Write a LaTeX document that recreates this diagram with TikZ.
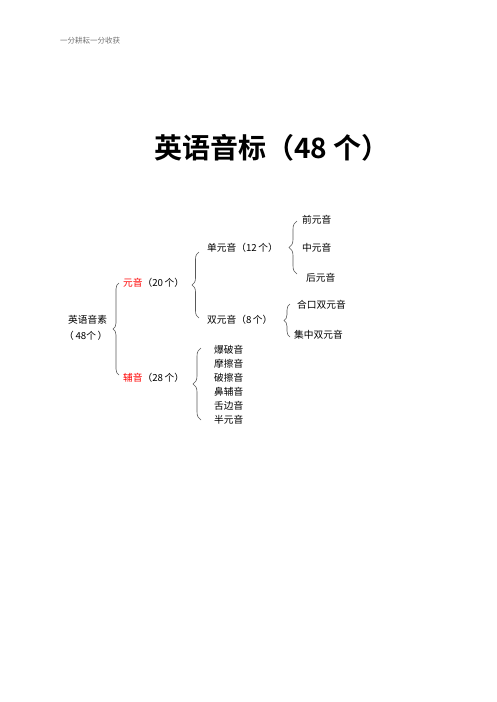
\documentclass[tikz,border=0pt]{standalone}
\usepackage{fontspec}
\setmainfont{Noto Sans CJK SC}
\newfontfamily\cjkb{Noto Sans CJK SC Bold}
\usetikzlibrary{decorations.pathreplacing}
\definecolor{hdr}{gray}{0.45}
\definecolor{brc}{gray}{0.35}
\tikzset{
  lbl/.style={anchor=west,inner sep=0pt,font=\fontsize{9.7}{11}\selectfont,text=black},
  bracep/.style={draw=brc,line width=0.6pt,decorate,decoration={brace,amplitude=#1}}
}
\begin{document}
\begin{tikzpicture}[x=1pt,y=-1pt]
\useasboundingbox[fill=white] (0,0) rectangle (496,702);
\node[anchor=west,inner sep=0pt,text=hdr,font=\fontsize{7.5}{9}\selectfont] (hdr) at (60,41) {一分耕耘一分收获};
\node[inner sep=0pt,font=\cjkb\fontsize{28}{32}\selectfont] (title) at (272,148) {英语音标（48 个）};
% root
\node[lbl] (root1) at (68,320) {英语音素};
\node[lbl] (root2) at (64,336) {（\,48个\,）};
% level 1
\coordinate (b1a) at (119,375); \coordinate (b1b) at (119,283);
\draw[bracep=6pt] (b1a) -- (b1b);
\node[lbl] (yy) at (123,283) {\textcolor{red}{元音}（20\,个）};
\node[lbl] (fy) at (123,378) {\textcolor{red}{辅音}（28\,个）};
% vowels
\coordinate (b2a) at (199,318); \coordinate (b2b) at (199,252);
\draw[bracep=7pt] (b2a) -- (b2b);
\node[lbl] (dan) at (207,248) {单元音（12\,个）};
\node[lbl] (shuang) at (207,320) {双元音（8\,个）};
% monophthongs
\coordinate (b3a) at (297,274); \coordinate (b3b) at (297,221);
\draw[bracep=8pt] (b3a) -- (b3b);
\node[lbl] (qian) at (302,220) {前元音};
\node[lbl] (zhong) at (302,248) {中元音};
\node[lbl] (hou) at (306,278) {后元音};
% diphthongs
\coordinate (b4a) at (290,337); \coordinate (b4b) at (290,304);
\draw[bracep=6pt] (b4a) -- (b4b);
\node[lbl] (hekou) at (297,305) {合口双元音};
\node[lbl] (jizhong) at (294,335) {集中双元音};
% consonants
\coordinate (b5a) at (201,420); \coordinate (b5b) at (201,348);
\draw[bracep=8pt] (b5a) -- (b5b);
\node[lbl] (c1) at (214,350) {爆破音};
\node[lbl] (c2) at (214,364) {摩擦音};
\node[lbl] (c3) at (214,378) {破擦音};
\node[lbl] (c4) at (214,392) {鼻辅音};
\node[lbl] (c5) at (214,406) {舌边音};
\node[lbl] (c6) at (214,420) {半元音};
\end{tikzpicture}
\end{document}
